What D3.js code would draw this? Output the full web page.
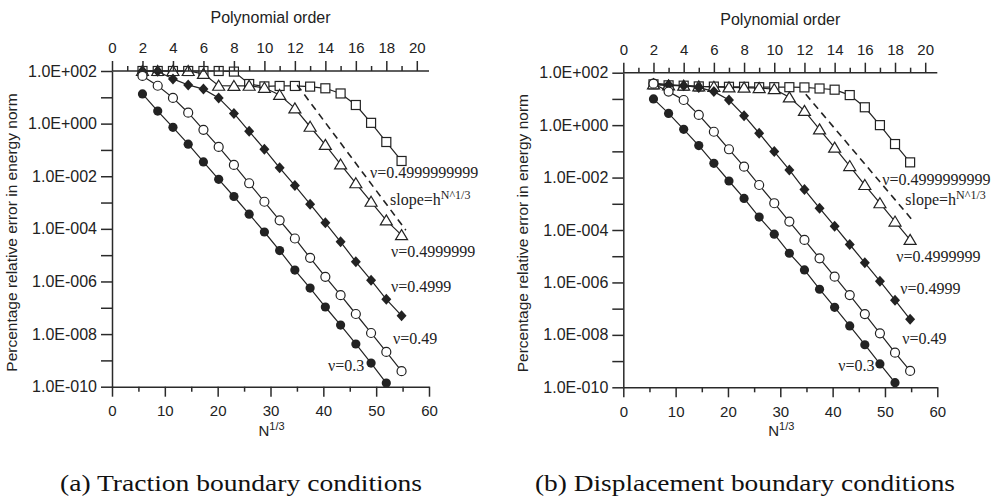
<!DOCTYPE html>
<html><head><meta charset="utf-8">
<script src="https://cdn.jsdelivr.net/npm/d3@7/dist/d3.min.js"></script>
<style>body{margin:0;background:#fff}svg{display:block}</style>
</head><body>
<svg id="c" width="991" height="501"></svg>
<script>
// ---------- data ----------
const orders = [2,3,4,5,6,7,8,9,10,11,12,13,14,15,16,17,18,19];
const nMajorTicks = [0,10,20,30,40,50,60];
const nMinorTicks = [5,15,25,35,45,55];
const polyTickLabels = [0,2,4,6,8,10,12,14,16,18,20];
const polyMinorTicks = [1,3,5,7,9,11,13,15,17,19];
const yDecades = [1e-10,1e-9,1e-8,1e-7,1e-6,1e-5,1e-4,1e-3,1e-2,1e-1,1e0,1e1,1e2];
const yTickLabels = ["1.0E-010","","1.0E-008","","1.0E-006","","1.0E-004","","1.0E-002","","1.0E+000","","1.0E+002"];

// (a) traction boundary conditions
const tr_nu03 = [1.35e1,3.0e0,7.2e-1,1.66e-1,3.5e-2,7.6e-3,1.7e-3,3.6e-4,7.6e-5,1.5e-5,2.7e-6,5.6e-7,1.07e-7,2.2e-8,4.2e-9,7.9e-10,1.38e-10];
const tr_nu049 = [6.5e1,2.75e1,9.5e0,2.6e0,5.8e-1,1.3e-1,2.7e-2,5.4e-3,1.07e-3,2.1e-4,4.3e-5,7.9e-6,1.5e-6,3.0e-7,5.8e-8,1.1e-8,2.1e-9,3.9e-10];
const tr_nu04999 = [1.0e2,9.8e1,5.0e1,2.95e1,2.05e1,9.5e0,2.45e0,5.1e-1,1.07e-1,2.1e-2,4.4e-3,8.7e-4,1.7e-4,3.2e-5,5.6e-6,1.12e-6,2.1e-7,5.0e-8];
const tr_nu04999999 = [1.0e2,1.0e2,1.0e2,1.0e2,7.8e1,2.75e1,2.7e1,2.75e1,2.3e1,1.23e1,3.8e0,7.6e-1,1.55e-1,2.8e-2,5.4e-3,1.07e-3,2.1e-4,5.8e-5];
const tr_nu04999999999 = [1.0e2,1.0e2,1.0e2,1.0e2,1.0e2,1.0e2,9.5e1,3.2e1,2.6e1,2.7e1,2.7e1,2.55e1,2.2e1,1.4e1,5.1e0,1.07e0,2.0e-1,3.8e-2];
const tr_slopeOrders = [12.15,19.28];
const tr_slopeValues = [2.95e1,8.9e-5];

// (b) displacement boundary conditions
const di_nu03 = [1.0e1,2.8e0,6.9e-1,1.66e-1,3.5e-2,7.4e-3,1.6e-3,3.1e-4,6.9e-5,1.3e-5,3.0e-6,5.5e-7,1.12e-7,2.2e-8,4.2e-9,7.8e-10,1.5e-10];
const di_nu049 = [3.8e1,1.9e1,9.1e0,2.45e0,5.6e-1,1.2e-1,2.6e-2,5.2e-3,1.05e-3,2.1e-4,4.2e-5,8.3e-6,1.66e-6,3.3e-7,6.2e-8,1.15e-8,2.1e-9,4.2e-10];
const di_nu04999 = [4.0e1,3.5e1,3.2e1,2.75e1,1.9e1,9.1e0,2.3e0,4.9e-1,9.8e-2,1.95e-2,3.5e-3,6.8e-4,1.4e-4,2.8e-5,5.6e-6,1.12e-6,2.1e-7,3.9e-8];
const di_nu04999999 = [3.6e1,3.3e1,3.2e1,3.0e1,2.9e1,2.75e1,2.7e1,2.6e1,2.35e1,1.15e1,3.5e0,6.9e-1,1.38e-1,2.75e-2,5.2e-3,1.05e-3,2.1e-4,4.2e-5];
const di_nu04999999999 = [3.6e1,3.3e1,3.2e1,3.0e1,2.95e1,2.9e1,2.9e1,2.8e1,2.8e1,2.8e1,2.75e1,2.5e1,2.25e1,1.4e1,4.8e0,1.0e0,1.9e-1,3.8e-2];
const di_slopeOrders = [12.09,19.23];
const di_slopeValues = [1.5e1,2.1e-4];

const labelTexts = ["ν=0.4999999999","slope=h","ν=0.4999999","ν=0.4999","ν=0.49","ν=0.3"];
const captions = ["(a) Traction boundary conditions","(b) Displacement boundary conditions"];
const xTitleMain = "N", xTitleSup = "1/3";
const topTitle = "Polynomial order";
const yTitle = "Percentage relative error in energy norm";

// ---------- layout ----------
const panels = [
  {x0:112, x1:429, yT:71, yB:386.7, capX:241, capW:362,
   series:[tr_nu04999999999,tr_nu04999999,tr_nu04999,tr_nu049,tr_nu03],
   slope:[tr_slopeOrders,tr_slopeValues],
   labelPos:[[258,107],[278,134],[279,186],[279,221],[281,273],[216,300]], caption:captions[0]},
  {x0:623.3, x1:937.3, yT:72.7, yB:387.3, capX:745, capW:420,
   series:[di_nu04999999999,di_nu04999999,di_nu04999,di_nu049,di_nu03],
   slope:[di_slopeOrders,di_slopeValues],
   labelPos:[[259,112],[282,132],[273,189],[277,221],[279,271],[215,298]], caption:captions[1]}
];
const markers = ["sqOpen","triOpen","diaFill","cirOpen","cirFill"];
const SANS = "'Liberation Sans', Arial, sans-serif";
const SERIF = "'Liberation Serif', 'Times New Roman', serif";
const INK = "#222";

const svg = d3.select("#c");

function drawMarker(g, type, x, y){
  if(type==="cirFill") g.append("circle").attr("cx",x).attr("cy",y).attr("r",4.6).attr("fill",INK);
  else if(type==="cirOpen") g.append("circle").attr("cx",x).attr("cy",y).attr("r",4.5).attr("fill","#fff").attr("stroke",INK).attr("stroke-width",1.2);
  else if(type==="sqOpen") g.append("rect").attr("x",x-4.5).attr("y",y-4.5).attr("width",9).attr("height",9).attr("fill","#fff").attr("stroke",INK).attr("stroke-width",1.2);
  else if(type==="triOpen") g.append("path").attr("d",`M${x},${y-5.5}L${x+6},${y+4.5}L${x-6},${y+4.5}Z`).attr("fill","#fff").attr("stroke",INK).attr("stroke-width",1.2);
  else if(type==="diaFill") g.append("path").attr("d",`M${x},${y-5.5}L${x+5},${y}L${x},${y+5.5}L${x-5},${y}Z`).attr("fill",INK);
}

panels.forEach(p=>{
  const g = svg.append("g");
  const y = d3.scaleLog().domain([1e-10,1e2]).range([p.yB,p.yT]);
  const xN = d3.scaleLinear().domain([0,60]).range([p.x0,p.x1]);
  const xP = d3.scaleLinear().domain([0,20]).range([p.x0, p.x0+(p.x1-p.x0)*0.9615]);

  // series
  p.series.forEach((vals,i)=>{
    const pts = vals.map((v,k)=>[xP(orders[k]), y(v)]);
    g.append("path").attr("d", d3.line()(pts)).attr("fill","none").attr("stroke",INK).attr("stroke-width",1.2);
    pts.forEach(pt=>drawMarker(g, markers[i], pt[0], pt[1]));
  });
  // slope dashed line
  const sp = p.slope[0].map((o,k)=>[xP(o), y(p.slope[1][k])]);
  g.append("path").attr("d", d3.line()(sp)).attr("fill","none").attr("stroke",INK)
    .attr("stroke-width",1.6).attr("stroke-dasharray","7,5");

  // axes
  const axG = g.append("g").attr("font-family",SANS);
  axG.append("g").attr("transform",`translate(${p.x0},0)`)
    .call(d3.axisLeft(y).tickValues(yDecades).tickSize(11).tickSizeOuter(0).tickPadding(4)
      .tickFormat((d,i)=>yTickLabels[i]))
    .selectAll("text").attr("font-size",16);
  axG.append("g").attr("transform",`translate(0,${p.yB})`)
    .call(d3.axisBottom(xN).tickValues(nMajorTicks).tickSize(10).tickSizeOuter(0).tickPadding(9))
    .selectAll("text").attr("font-size",15);
  axG.append("g").attr("transform",`translate(0,${p.yB})`)
    .call(d3.axisBottom(xN).tickValues(nMinorTicks).tickSize(5).tickSizeOuter(0).tickFormat(""))
    .select(".domain").remove();
  const tAx = axG.append("g").attr("transform",`translate(0,${p.yT})`)
    .call(d3.axisTop(xP).tickValues(polyTickLabels).tickSize(10).tickSizeOuter(0).tickPadding(8));
  tAx.select(".domain").remove();
  tAx.selectAll("text").attr("font-size",15);
  axG.append("g").attr("transform",`translate(0,${p.yT})`)
    .call(d3.axisTop(xP).tickValues(polyMinorTicks).tickSize(5).tickSizeOuter(0).tickFormat(""))
    .select(".domain").remove();
  axG.append("line").attr("x1",p.x0).attr("x2",p.x1).attr("y1",p.yT).attr("y2",p.yT);
  axG.selectAll("path.domain, line").attr("stroke","#2a2a2a").attr("stroke-width",1.5);
  axG.selectAll("text").attr("fill",INK).attr("font-family",SANS);

  // titles
  g.append("text").attr("x",(p.x0+p.x1)/2).attr("y",p.yT-48).attr("text-anchor","middle")
    .attr("font-family",SANS).attr("font-size",16).attr("fill",INK).text(topTitle);
  const xt = g.append("text").attr("x",(p.x0+p.x1)/2+1).attr("y",p.yB+49).attr("text-anchor","middle")
    .attr("font-family",SANS).attr("font-size",15).attr("fill",INK);
  xt.append("tspan").text(xTitleMain);
  xt.append("tspan").attr("font-size",11).attr("dy",-6).text(xTitleSup);
  g.append("text").attr("transform",`translate(${p.x0-95},${p.yB-15}) rotate(-90)`)
    .attr("text-anchor","start").attr("font-family",SANS).attr("font-size",15.5).attr("fill",INK).text(yTitle);

  // series labels
  p.labelPos.forEach((lp,i)=>{
    const t = g.append("text").attr("x",p.x0+lp[0]).attr("y",p.yT+lp[1])
      .attr("font-family",SERIF).attr("font-size",16).attr("fill",INK);
    t.append("tspan").text(labelTexts[i]);
    if(i===1){
      t.append("tspan").attr("font-size",12).attr("dy",-6).text("N^1/3");
    }
  });

  // caption
  svg.append("text").attr("x",p.capX).attr("y",491).attr("text-anchor","middle")
    .attr("font-family",SERIF).attr("font-size",24).attr("fill","#111")
    .attr("textLength",p.capW).attr("lengthAdjust","spacingAndGlyphs").text(p.caption);
});
</script>
</body></html>
